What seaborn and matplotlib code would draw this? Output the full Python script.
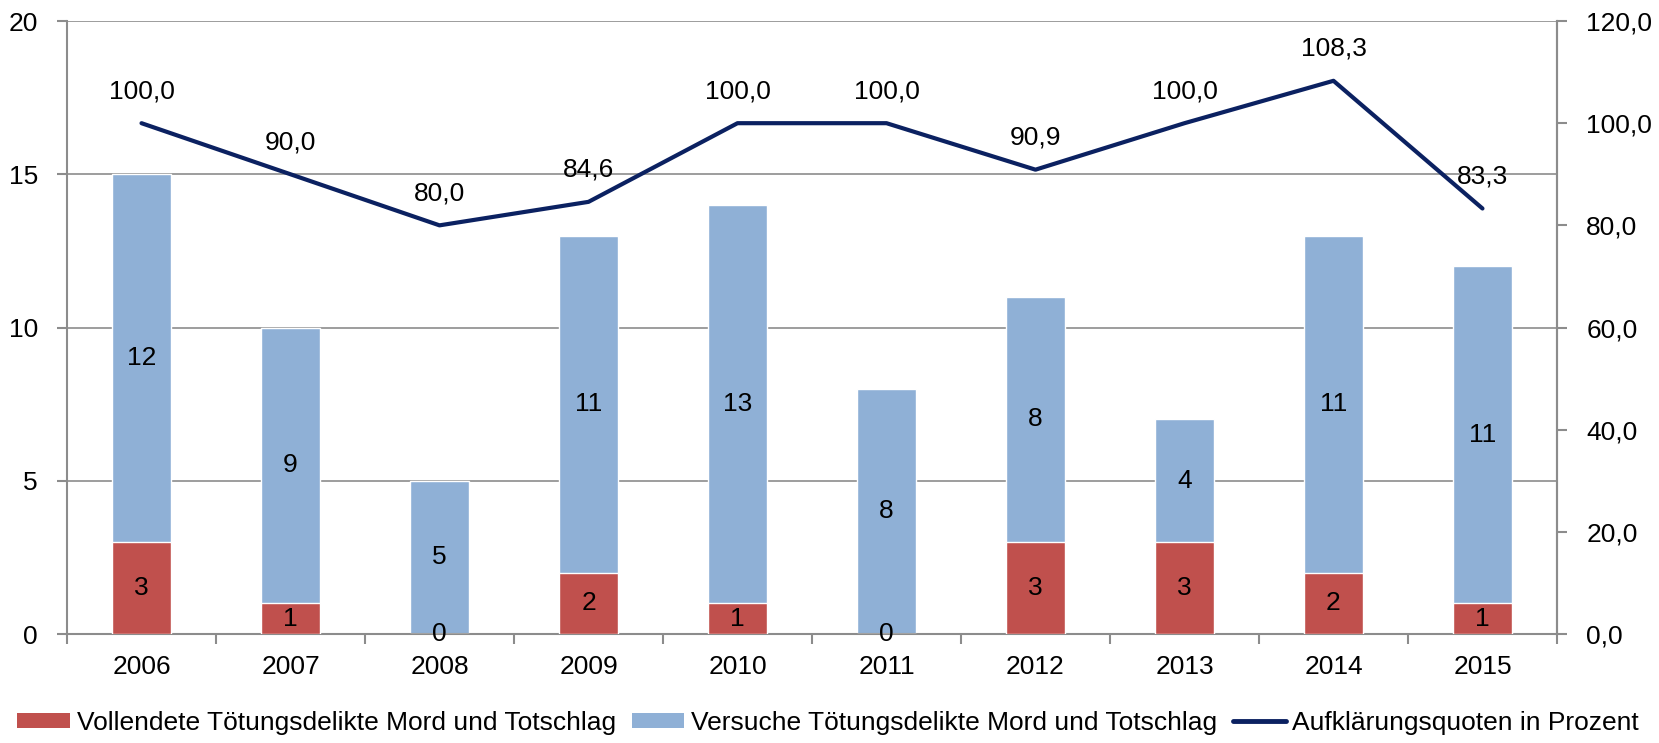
import matplotlib
matplotlib.use("Agg")
import matplotlib.pyplot as plt
import seaborn as sns
import numpy as np
import pandas as pd
from matplotlib.patches import Patch
from matplotlib.lines import Line2D

# Data
years = ["2006", "2007", "2008", "2009", "2010", "2011", "2012", "2013", "2014", "2015"]
vollendete = [3, 1, 0, 2, 1, 0, 3, 3, 2, 1]
versuche = [12, 9, 5, 11, 13, 8, 8, 4, 11, 11]
quote = [100.0, 90.0, 80.0, 84.6, 100.0, 100.0, 90.9, 100.0, 108.3, 83.3]

label_vollendet = "Vollendete Tötungsdelikte Mord und Totschlag"
label_versuch = "Versuche Tötungsdelikte Mord und Totschlag"
label_quote = "Aufklärungsquoten in Prozent"

RED = "#C0504D"
BLUE = "#8FB0D6"
NAVY = "#0B2161"
GRID = "#8C8C8C"

sns.set_theme(style="white")
plt.rcParams["font.family"] = ["Liberation Sans", "DejaVu Sans"]
plt.rcParams["text.color"] = "black"
plt.rcParams["xtick.labelcolor"] = "black"
plt.rcParams["ytick.labelcolor"] = "black"
FS = 19

df = pd.DataFrame({"Jahr": years, "Vollendet": vollendete, "Versuch": versuche, "Quote": quote})
df["Gesamt"] = df["Vollendet"] + df["Versuch"]

fig, ax = plt.subplots(figsize=(16.59, 7.43), dpi=100)
fig.subplots_adjust(left=0.0404, right=0.9385, top=0.9717, bottom=0.1467)

# Stacked bars: total in blue, completed offences in red on top of it
sns.barplot(data=df, x="Jahr", y="Gesamt", color=BLUE, width=0.4, ax=ax,
            saturation=1, edgecolor="white", linewidth=1, zorder=2)
sns.barplot(data=df, x="Jahr", y="Vollendet", color=RED, width=0.4, ax=ax,
            saturation=1, edgecolor="white", linewidth=1, zorder=3)

ax.set_ylim(0, 20)
ax.set_yticks([0, 5, 10, 15, 20])
ax.set_xlim(-0.5, len(years) - 0.5)
ax.set_xlabel("")
ax.set_ylabel("")
ax.yaxis.grid(True, color=GRID, linewidth=1.2, zorder=0)
ax.set_axisbelow(True)
ax.spines["top"].set_visible(False)
for side in ["left", "bottom", "right"]:
    ax.spines[side].set_color(GRID)
    ax.spines[side].set_linewidth(1.5)

# x ticks on category boundaries, labels at category centres
ax.set_xticks(np.arange(-0.5, len(years), 1.0), minor=False)
ax.set_xticklabels([""] * (len(years) + 1))
ax.set_xticks(np.arange(len(years)), minor=True)
ax.set_xticklabels(years, minor=True)
ax.tick_params(axis="x", which="major", length=7, width=1.5, color=GRID, direction="out", bottom=True)
ax.tick_params(axis="x", which="minor", length=0, labelsize=FS, pad=15, bottom=True, labelcolor="black")
ax.tick_params(axis="y", length=7, width=1.5, color=GRID, direction="out", left=True, labelsize=FS,
               pad=14, labelcolor="black")

# Segment labels
for i in range(len(years)):
    v = vollendete[i]
    s = versuche[i]
    ax.text(i, v / 2, str(v), ha="center", va="center", fontsize=FS, color="black", zorder=5)
    ax.text(i, v + s / 2, str(s), ha="center", va="center", fontsize=FS, color="black", zorder=5)

# Clearance rate on secondary axis
ax2 = ax.twinx()
sns.pointplot(data=df, x="Jahr", y="Quote", ax=ax2, color=NAVY, marker="",
              linestyle="-", errorbar=None, linewidth=3)
for line in ax2.lines:
    line.set_linewidth(3)
ax2.set_xlim(-0.5, len(years) - 0.5)
ax2.set_ylim(0, 120)
ax2.set_yticks(np.arange(0, 121, 20))
ax2.set_yticklabels([f"{t:.1f}".replace(".", ",") for t in np.arange(0, 121, 20)])
ax2.set_ylabel("")
ax2.set_xlabel("")
ax2.tick_params(axis="y", length=7, width=1.5, color=GRID, direction="out", right=True, labelsize=FS,
                pad=14, labelcolor="black")
ax2.tick_params(axis="x", length=0)
for side in ["top", "left", "bottom"]:
    ax2.spines[side].set_visible(False)
ax2.spines["right"].set_color(GRID)
ax2.spines["right"].set_linewidth(1.5)

for i, q in enumerate(quote):
    ax2.annotate(f"{q:.1f}".replace(".", ","), (i, q), xytext=(0, 23), textcoords="offset points",
                 ha="center", va="center", fontsize=FS, color="black")

handles = [
    Patch(facecolor=RED, edgecolor="none"),
    Patch(facecolor=BLUE, edgecolor="none"),
    Line2D([0], [0], color=NAVY, linewidth=3.5),
]
fig.legend(handles, [label_vollendet, label_versuch, label_quote], loc="lower left",
           bbox_to_anchor=(0.004, -0.003), ncol=3, frameon=False, fontsize=FS,
           handlelength=2.0, handleheight=0.5, handletextpad=0.25, columnspacing=0.6,
           borderaxespad=0)

fig.savefig("out.png", dpi=100)
